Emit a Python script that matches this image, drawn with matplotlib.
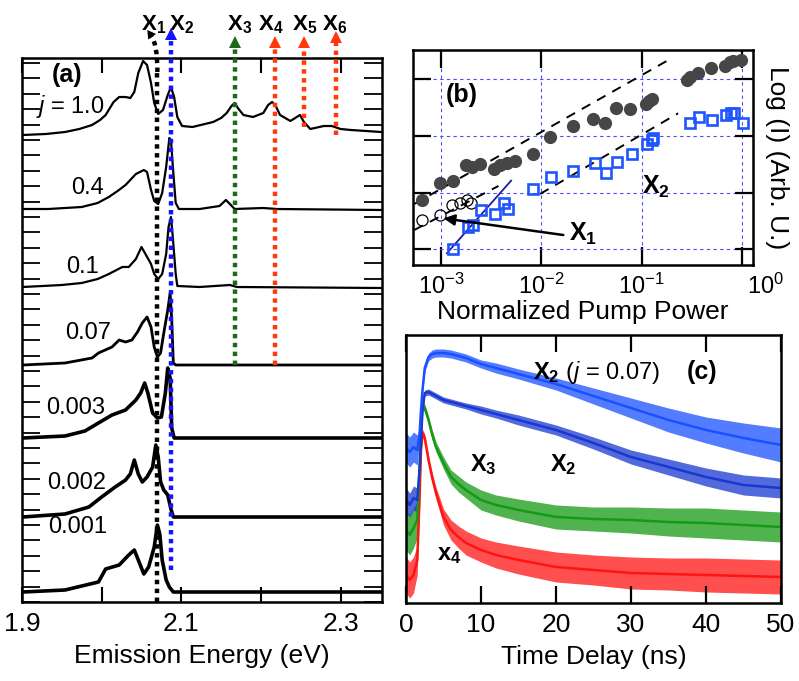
import numpy as np
import matplotlib
matplotlib.use('Agg')
import matplotlib.pyplot as plt
from matplotlib.path import Path
from matplotlib.patches import PathPatch
from matplotlib.ticker import MultipleLocator, NullLocator
import matplotlib.transforms as mtrans

plt.rcParams['font.family'] = ['Liberation Sans', 'DejaVu Sans']
plt.rcParams['mathtext.fontset'] = 'custom'
plt.rcParams['mathtext.rm'] = 'Liberation Sans'
plt.rcParams['mathtext.it'] = 'Liberation Sans:italic'
plt.rcParams['mathtext.bf'] = 'Liberation Sans:bold'

# ---------------- Panel (a): PL spectra ----------------
pump_labels = ["0.001", "0.002", "0.003", "0.07", "0.1", "0.4", "$j$ = 1.0"]

E_j1000 = [1.901, 1.930, 1.954, 1.972, 1.988, 1.998, 2.005, 2.015, 2.022, 2.030, 2.036, 2.041,
           2.046, 2.052, 2.057, 2.062, 2.066, 2.071, 2.077, 2.083, 2.087, 2.091, 2.095, 2.101,
           2.114, 2.140, 2.150, 2.157, 2.163, 2.167, 2.171, 2.178, 2.190, 2.203, 2.209, 2.214,
           2.218, 2.224, 2.237, 2.245, 2.249, 2.254, 2.262, 2.279, 2.289, 2.300, 2.313, 2.351]
I_j1000 = [0, 1, 3, 6, 10, 15, 20, 33, 38, 38, 37, 43, 62, 74, 70, 52, 32, 21, 25, 40, 48, 38,
           18, 9, 8, 13, 17, 22, 29, 32, 27, 20, 18, 22, 30, 33, 30, 20, 14, 18, 20, 13, 6, 9,
           9, 6, 5, 3]

E_j0400 = [1.901, 1.933, 1.975, 1.995, 2.009, 2.020, 2.030, 2.043, 2.053, 2.057, 2.062, 2.066,
           2.071, 2.076, 2.081, 2.085, 2.087, 2.090, 2.093, 2.097, 2.123, 2.148, 2.156, 2.161,
           2.167, 2.203, 2.220, 2.351]
I_j0400 = [0, 0, 2, 6, 12, 18, 24, 35, 39, 37, 19, 8, 5, 16, 42, 71, 69, 36, 6, 0, 0, 3, 9, 5,
           0, 1, 0, -1]

E_j0100 = [1.901, 1.950, 1.975, 1.995, 2.009, 2.026, 2.034, 2.043, 2.050, 2.055, 2.062, 2.066,
           2.071, 2.076, 2.081, 2.084, 2.087, 2.089, 2.093, 2.095, 2.123, 2.161, 2.170, 2.351]
I_j0100 = [0, 2, 4, 8, 13, 20, 20, 28, 40, 33, 23, 13, 8, 13, 33, 60, 70, 53, 13, 1, 0, 2, 0, -1]

E_j0070 = [1.901, 1.954, 1.988, 1.996, 2.013, 2.022, 2.030, 2.038, 2.045, 2.051, 2.057, 2.062,
           2.066, 2.070, 2.074, 2.078, 2.083, 2.086, 2.088, 2.090, 2.093, 2.351]
I_j0070 = [0, 2, 7, 12, 18, 25, 23, 25, 33, 42, 48, 38, 18, 8, 12, 32, 55, 72, 45, 2, 0, 0]

E_j0003 = [1.901, 1.954, 1.979, 1.996, 2.013, 2.030, 2.043, 2.049, 2.054, 2.058, 2.064, 2.070,
           2.075, 2.080, 2.083, 2.086, 2.088, 2.091, 2.351]
I_j0003 = [0, 2, 7, 15, 23, 28, 38, 45, 55, 45, 25, 20, 21, 45, 70, 60, 10, 0, 0]

E_j0002 = [1.901, 1.954, 1.984, 2.000, 2.017, 2.030, 2.036, 2.041, 2.046, 2.051, 2.057, 2.064,
           2.068, 2.071, 2.074, 2.078, 2.083, 2.087, 2.090, 2.351]
I_j0002 = [0, 3, 10, 20, 30, 37, 43, 57, 43, 35, 40, 50, 72, 60, 35, 27, 22, 8, 0, 0]

E_j0001 = [1.901, 1.954, 1.996, 2.005, 2.022, 2.034, 2.041, 2.047, 2.053, 2.059, 2.066, 2.070,
           2.073, 2.076, 2.081, 2.085, 2.090, 2.351]
I_j0001 = [0, 2, 10, 23, 27, 37, 42, 30, 18, 25, 45, 67, 58, 32, 12, 5, 0, 0]

spectra_E = [E_j0001, E_j0002, E_j0003, E_j0070, E_j0100, E_j0400, E_j1000]
spectra_I = [I_j0001, I_j0002, I_j0003, I_j0070, I_j0100, I_j0400, I_j1000]

peak_names = ["X_1", "X_2", "X_3", "X_4", "X_5", "X_6"]
peak_E = [2.070, 2.087, 2.167, 2.218, 2.254, 2.294]

# ---------------- Panel (b): power dependence ----------------
logP_x1all = [-3.193, -3.010, -2.884, -2.751, -2.694, -2.611, -2.478, -2.412, -2.346, -2.262,
              -2.080, -1.914, -1.688, -1.488, -1.365, -1.256, -1.116, -0.957, -0.924, -0.894,
              -0.545, -0.518, -0.435, -0.302, -0.169, -0.120, -0.086, -0.003]
logI_x1all = [0.869, 1.163, 1.210, 1.486, 1.444, 1.497, 1.409, 1.486, 1.527, 1.562, 1.674,
              1.985, 2.173, 2.290, 2.231, 2.484, 2.466, 2.560, 2.619, 2.648, 2.983, 3.030,
              3.112, 3.188, 3.230, 3.306, 3.324, 3.335]

logP_x1 = [-3.193, -3.017, -2.894, -2.811, -2.741, -2.701]
logI_x1 = [0.517, 0.605, 0.781, 0.810, 0.869, 0.816]

logP_x2 = [-2.884, -2.728, -2.684, -2.601, -2.468, -2.369, -2.329, -2.080, -1.907, -1.688,
           -1.465, -1.355, -1.249, -1.093, -0.944, -0.900, -0.884, -0.512, -0.425, -0.296,
           -0.153, -0.103, -0.080, 0.013]
logI_x2 = [0.006, 0.388, 0.429, 0.693, 0.617, 0.822, 0.705, 1.057, 1.280, 1.386, 1.515,
           1.351, 1.544, 1.679, 1.856, 1.926, 1.955, 2.220, 2.337, 2.278, 2.366, 2.396,
           2.407, 2.231]

fit_upper_P = [-3.269, -0.684]
fit_upper_I = [0.799, 3.382]
fit_lowleft_P = [-3.269, -2.429]
fit_lowleft_I = [0.341, 1.116]
fit_right_P = [-2.013, -0.635]
fit_right_I = [0.975, 2.396]
fit_steep_P = [-2.944, -2.302]
fit_steep_I = [-0.070, 1.210]

# ---------------- Panel (c): time-resolved PL ----------------
t_ns = [0, 0.5, 1.0, 1.5, 1.8, 2.0, 2.2, 2.5, 3.0, 3.5, 4, 5, 6, 7, 8, 10, 12, 15, 20, 25,
        30, 35, 40, 45, 50]
x2_j007 = [155, 151, 156, 153, 168, 193, 213, 235, 246, 249, 250, 250, 249, 247, 245, 239,
           235, 229, 219, 207, 195, 183, 173, 165, 158]
x2_j007_spread = [15, 15, 15, 15, 6, 5, 4, 4, 4, 4, 4, 4, 4, 4, 4, 4, 5, 5, 6, 8, 10, 12, 13, 15, 17]
x2_tr = [103, 98, 105, 103, 133, 163, 193, 210, 211, 209, 207, 203, 201, 199, 197, 193, 189,
         183, 173, 160, 146, 136, 126, 118, 115]
x2_tr_spread = [12, 12, 12, 12, 6, 5, 4, 3, 3, 3, 3, 3, 3, 3, 3, 4, 4, 5, 5, 6, 7, 8, 9, 10, 10]
x3_tr = [73, 68, 75, 83, 133, 173, 198, 195, 183, 168, 156, 140, 126, 119, 113, 103, 98, 93,
         86, 84, 83, 81, 80, 78, 76]
x3_tr_spread = [20, 20, 20, 18, 8, 5, 4, 4, 4, 5, 5, 6, 7, 8, 8, 10, 10, 11, 12, 12, 13, 14, 15, 15, 15]
x4_tr = [28, 23, 28, 43, 103, 153, 170, 165, 143, 125, 110, 86, 73, 66, 60, 53, 48, 43, 36,
         33, 30, 29, 28, 27, 26]
x4_tr_spread = [18, 18, 18, 15, 8, 5, 4, 4, 5, 5, 6, 8, 10, 11, 12, 12, 13, 14, 15, 15, 16, 16, 17, 17, 17]

# ======================================================
fig = plt.figure(figsize=(7.99, 6.81), dpi=100)
W, H = 799.0, 681.0
axA = fig.add_axes([22 / W, (H - 602) / H, 360 / W, 544 / H])
axB = fig.add_axes([413 / W, (H - 265) / H, 340 / W, 215 / H])
axC = fig.add_axes([406 / W, (H - 603) / H, 375 / W, 268 / H])

SPW = 1.8
for ax in (axA, axB, axC):
    for s in ax.spines.values():
        s.set_linewidth(SPW)

# ---------------- Panel (a) ----------------
offsets = [10, 85, 164, 237, 315, 393, 467]
lws = [2.6, 2.6, 2.6, 2.0, 1.6, 1.6, 1.6]
for E, I, off, lw in zip(spectra_E, spectra_I, offsets, lws):
    axA.plot(E, np.array(I) + off, color='k', lw=lw, zorder=4, solid_joinstyle='round')

axA.set_xlim(1.9, 2.352)
axA.set_ylim(0, 544)
axA.set_xticks([1.9, 2.1, 2.3])
axA.set_xticklabels(["1.9", "2.1", "2.3"])
axA.set_xticks([2.0, 2.2], minor=True)
axA.yaxis.set_major_locator(MultipleLocator(15.4))
axA.set_yticklabels([])
axA.tick_params(axis='x', which='both', direction='in', top=True, bottom=True,
                length=11, width=1.5, labelsize=19, pad=7)
axA.tick_params(axis='y', which='both', direction='in', left=True, right=True,
                length=13, width=1.3)
axA.set_xlabel("Emission Energy (eV)", fontsize=19, labelpad=6)

lab_pos = [(1.933, 75), (1.932, 119), (1.930, 194), (1.954, 269), (1.956, 335), (1.962, 414), (1.918, 496)]
for (x, y), txt in zip(lab_pos, pump_labels):
    axA.text(x, y, txt, fontsize=17, ha='left', va='center', zorder=6)
axA.text(1.937, 527, "(a)", fontsize=18, fontweight='bold', ha='left', va='center')

dot = (0, (1, 1))
arrow_specs = [
    (peak_E[1], 32, 566, '#1414ff'),
    (peak_E[2], 237, 558, '#1a6b1a'),
    (peak_E[3], 237, 558, '#ff3a0a'),
    (peak_E[4], 475, 558, '#ff3a0a'),
    (peak_E[5], 467, 563, '#ff3a0a'),
]
for xE, y0, y1, col in arrow_specs:
    axA.plot([xE, xE], [y0, y1], color=col, lw=3.2, ls=dot, dash_capstyle='butt',
             clip_on=False, zorder=5)
    axA.plot([xE], [y1 + 2], marker='^', color=col, ms=9, mew=0, clip_on=False, zorder=5)
axA.plot([peak_E[0], peak_E[0]], [0, 530], color='k', lw=3.2, ls=dot, dash_capstyle='butt',
         clip_on=False, zorder=5)
pth = Path([(peak_E[0], 530), (peak_E[0], 560), (2.0615, 566)],
           [Path.MOVETO, Path.CURVE3, Path.CURVE3])
axA.add_patch(PathPatch(pth, fill=False, edgecolor='k', lw=3.2, ls=dot, clip_on=False, zorder=5))
axA.plot([2.0605], [568], marker=(3, 0, 35), color='k', ms=8, mew=0, clip_on=False, zorder=5)

lab_E = [2.050, 2.085, 2.157, 2.196, 2.239, 2.277]
for xE, nm in zip(lab_E, peak_names):
    axA.text(xE, 572, r"$\mathbf{%s}$" % nm, fontsize=16, ha='left', va='baseline', clip_on=False)

# ---------------- Panel (b) ----------------
axB.set_xscale('log')
axB.set_xlim(10 ** -3.282, 10 ** 0.113)
axB.set_ylim(-0.276, 3.511)
axB.set_xticks([1e-3, 1e-2, 1e-1, 1e0])
axB.set_xticklabels([r"$10^{-3}$", r"$10^{-2}$", r"$10^{-1}$", r"$10^{0}$"])
axB.xaxis.set_minor_locator(NullLocator())
axB.set_yticks([0, 1, 2, 3])
axB.set_yticklabels([])
axB.grid(True, which='major', color='#4b4bff', ls=(0, (3, 3)), lw=0.8, zorder=0)
axB.tick_params(axis='x', which='both', direction='in', top=True, bottom=True,
                length=13, width=1.6, labelsize=17, pad=6)
axB.tick_params(axis='y', which='both', direction='in', left=True, right=True,
                length=13, width=1.6)
axB.set_xlabel("Normalized Pump Power", fontsize=19, labelpad=1)
axB.yaxis.set_label_position('right')
axB.set_ylabel("Log (I) (Arb. U.)", fontsize=19, rotation=270, labelpad=26)

P = lambda v: 10 ** np.array(v)
axB.plot(P(fit_upper_P), fit_upper_I, color='k', ls=(0, (5, 4)), lw=1.4, zorder=2)
axB.plot(P(fit_lowleft_P), fit_lowleft_I, color='k', ls=(0, (5, 4)), lw=1.4, zorder=2)
axB.plot(P(fit_right_P), fit_right_I, color='k', ls=(0, (5, 4)), lw=1.4, zorder=2)
axB.plot(P(fit_steep_P), fit_steep_I, color='#1c1ca0', lw=1.3, zorder=2)
axB.plot(P(logP_x1all), logI_x1all, 'o', color='#464646', ms=9.5, mew=0, zorder=3)
axB.plot(P(logP_x1), logI_x1, 'o', mfc='none', mec='k', ms=8, mew=0.9, zorder=3)
axB.plot(P(logP_x2), logI_x2, 's', mfc='none', mec='#1f55ff', ms=7, mew=1.9, zorder=3)

axB.annotate('', xy=(10 ** -2.977, 0.546), xytext=(10 ** -1.781, 0.252),
             arrowprops=dict(arrowstyle='-|>', color='k', lw=1.8, mutation_scale=16,
                             shrinkA=0, shrinkB=0), zorder=4)
axB.text(10 ** -1.72, 0.28, r"$\mathbf{X_1}$", fontsize=18, ha='left', va='center')
axB.text(10 ** -1.0, 1.10, r"$\mathbf{X_2}$", fontsize=18, ha='left', va='center')
axB.text(10 ** -2.95, 2.72, "(b)", fontsize=18, fontweight='bold', ha='left', va='center')

lbls = axB.get_xticklabels()
off = mtrans.ScaledTranslation(24 / 100.0, 0, fig.dpi_scale_trans)
lbls[3].set_transform(lbls[3].get_transform() + off)

# ---------------- Panel (c) ----------------
traces = [(x4_tr, x4_tr_spread, '#ff1414'),
          (x3_tr, x3_tr_spread, '#159a15'),
          (x2_tr, x2_tr_spread, '#1838d0'),
          (x2_j007, x2_j007_spread, '#1a50ff')]
t = np.array(t_ns)
for c, s, col in traces:
    c = np.array(c, float)
    s = np.array(s, float)
    axC.fill_between(t, c - s, c + s, color=col, alpha=0.75, lw=0)
    axC.plot(t, c, color=col, lw=1.8)

axC.set_xlim(0, 50)
axC.set_ylim(0, 268)
axC.set_xticks([0, 10, 20, 30, 40, 50])
axC.set_yticks([])
axC.tick_params(axis='x', which='both', direction='in', top=True, bottom=True,
                length=12, width=1.6, labelsize=19, pad=7)
axC.set_xlabel("Time Delay (ns)", fontsize=19, labelpad=6)

axC.text(16.9, 231, r"$\mathbf{X_2}$ ($j$ = 0.07)", fontsize=17, ha='left', va='center')
axC.text(37.5, 231, "(c)", fontsize=18, fontweight='bold', ha='left', va='center')
axC.text(8.5, 138, r"$\mathbf{X_3}$", fontsize=17, ha='left', va='center')
axC.text(19.2, 138, r"$\mathbf{X_2}$", fontsize=17, ha='left', va='center')
axC.text(4.1, 48, r"$\mathbf{x_4}$", fontsize=17, ha='left', va='center')

fig.savefig("out.png", dpi=100)
